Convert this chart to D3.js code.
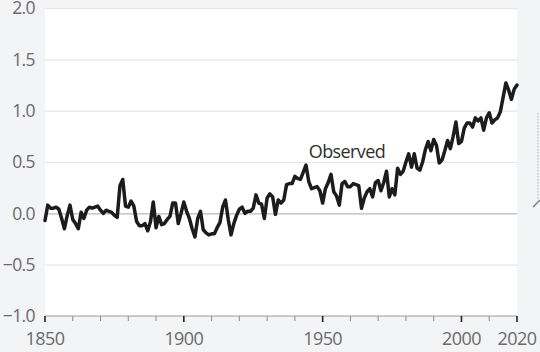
<!DOCTYPE html>
<html lang="en">
<head>
  <meta charset="UTF-8">
  <title>Observed temperature change</title>
  <script src="https://d3js.org/d3.v7.min.js"></script>
  <style>
    body { margin: 0; background: #f3f4f6; }
    text { font-family: "Open Sans", "Noto Sans", sans-serif; letter-spacing: -0.6px; }
  </style>
</head>
<body>
<script>
  // annual values, 1850..2020
  const startYear = 1850;
  const observed = [
    -0.07, 0.08, 0.05, 0.05, 0.06, 0.04, -0.05, -0.15, -0.02, 0.08,   // 1850s
    -0.06, -0.10, -0.15, 0.01, -0.05, 0.03, 0.06, 0.05, 0.06, 0.07,   // 1860s
    0.03, 0.00, 0.03, 0.02, 0.01, -0.02, -0.04, 0.27, 0.33, 0.07,     // 1870s
    0.06, 0.12, 0.07, -0.08, -0.12, -0.12, -0.10, -0.17, -0.08, 0.11, // 1880s
    -0.14, -0.03, -0.11, -0.10, -0.06, -0.03, 0.10, 0.10, -0.10, 0.00, // 1890s
    0.11, 0.02, -0.05, -0.15, -0.23, -0.05, 0.02, -0.16, -0.19, -0.21, // 1900s
    -0.20, -0.20, -0.14, -0.09, 0.06, 0.13, -0.06, -0.21, -0.10, -0.02, // 1910s
    0.04, 0.06, 0.00, 0.02, 0.02, 0.05, 0.18, 0.10, 0.09, -0.05,      // 1920s
    0.15, 0.19, 0.16, -0.01, 0.13, 0.10, 0.13, 0.28, 0.29, 0.29,      // 1930s
    0.36, 0.34, 0.33, 0.40, 0.47, 0.31, 0.24, 0.25, 0.26, 0.22,       // 1940s
    0.10, 0.24, 0.30, 0.38, 0.21, 0.17, 0.08, 0.29, 0.31, 0.26,       // 1950s
    0.26, 0.29, 0.28, 0.27, 0.05, 0.15, 0.21, 0.24, 0.16, 0.30,       // 1960s
    0.32, 0.22, 0.30, 0.41, 0.16, 0.24, 0.18, 0.44, 0.38, 0.41,       // 1970s
    0.50, 0.58, 0.45, 0.58, 0.44, 0.42, 0.50, 0.62, 0.70, 0.61,       // 1980s
    0.72, 0.66, 0.49, 0.52, 0.61, 0.71, 0.63, 0.75, 0.89, 0.68,       // 1990s
    0.70, 0.83, 0.88, 0.88, 0.84, 0.93, 0.90, 0.93, 0.81, 0.93,       // 2000s
    0.98, 0.88, 0.91, 0.93, 0.99, 1.13, 1.27, 1.20, 1.11, 1.21,       // 2010s
    1.25                                                              // 2020
  ];
  const yTicks = [-1.0, -0.5, 0.0, 0.5, 1.0, 1.5, 2.0];
  const xLabels = [1850, 1900, 1950, 2000, 2020];
  const seriesLabel = "Observed";

  const data = observed.map((v, i) => ({ year: startYear + i, value: v }));

  const width = 540, height = 352;
  const margin = { top: 8, right: 23, bottom: 36, left: 45 };

  const svg = d3.select("body").append("svg")
    .attr("width", width)
    .attr("height", height);

  const x = d3.scaleLinear()
    .domain([1850, 2020])
    .range([margin.left, width - margin.right]);

  const y = d3.scaleLinear()
    .domain([-1, 2])
    .range([height - margin.bottom, margin.top]);

  // white plot area
  svg.append("rect")
    .attr("x", x(1850))
    .attr("y", y(2))
    .attr("width", x(2020) - x(1850))
    .attr("height", y(-1) - y(2))
    .attr("fill", "#fff");

  // horizontal gridlines
  svg.append("g")
    .selectAll("line")
    .data(yTicks.filter(d => d > -1))
    .join("line")
    .attr("x1", x(1850))
    .attr("x2", x(2020))
    .attr("y1", d => y(d) + 0.5)
    .attr("y2", d => y(d) + 0.5)
    .attr("stroke", d => d === 0 ? "#b9b9b9" : "#e4e4e4")
    .attr("stroke-width", 1.2);

  // y labels
  const fmt = d => (d < 0 ? "\u2212" : "") + Math.abs(d).toFixed(1);
  svg.append("g")
    .selectAll("text")
    .data(yTicks)
    .join("text")
    .attr("x", 35)
    .attr("y", d => y(d))
    .attr("dy", "0.36em")
    .attr("text-anchor", "end")
    .attr("fill", "#6a6a6a")
    .style("font-size", "17.5px")
    .text(fmt);

  // bottom axis
  const xAxis = svg.append("g")
    .attr("transform", "translate(0," + y(-1) + ")");

  xAxis.append("line")
    .attr("x1", x(1850))
    .attr("x2", x(2020))
    .attr("stroke", "#9a9a9a")
    .attr("stroke-width", 1);

  xAxis.selectAll(".minor")
    .data(d3.range(1850, 2021, 10))
    .join("line")
    .attr("class", "minor")
    .attr("x1", d => x(d))
    .attr("x2", d => x(d))
    .attr("y1", 0)
    .attr("y2", d => xLabels.includes(d) ? 6 : 5)
    .attr("stroke", d => xLabels.includes(d) ? "#222" : "#8a8a8a")
    .attr("stroke-width", d => xLabels.includes(d) ? 1.6 : 1);

  xAxis.selectAll(".lbl")
    .data(xLabels)
    .join("text")
    .attr("class", "lbl")
    .attr("x", d => x(d))
    .attr("y", 29)
    .attr("text-anchor", "middle")
    .attr("fill", "#6a6a6a")
    .style("font-size", "18px")
    .text(d => d);

  // observed line
  const line = d3.line()
    .x(d => x(d.year))
    .y(d => y(d.value));

  svg.append("path")
    .datum(data)
    .attr("d", line)
    .attr("fill", "none")
    .attr("stroke", "#1c1c1c")
    .attr("stroke-width", 3.5)
    .attr("stroke-linejoin", "round")
    .attr("stroke-linecap", "round");

  svg.append("text")
    .attr("x", x(1945))
    .attr("y", 158)
    .attr("fill", "#2e2e2e")
    .style("font-size", "18px")
    .text(seriesLabel);

  // cut-off decoration from the neighbouring panel
  svg.append("line")
    .attr("x1", 538).attr("x2", 538)
    .attr("y1", 113).attr("y2", 200)
    .attr("stroke", "#cfcfcf")
    .attr("stroke-width", 2)
    .attr("stroke-dasharray", "1.5,1.5");
  svg.append("line")
    .attr("x1", 533).attr("y1", 207)
    .attr("x2", 540).attr("y2", 200)
    .attr("stroke", "#7a7a7a")
    .attr("stroke-width", 1.5);
</script>
</body>
</html>
